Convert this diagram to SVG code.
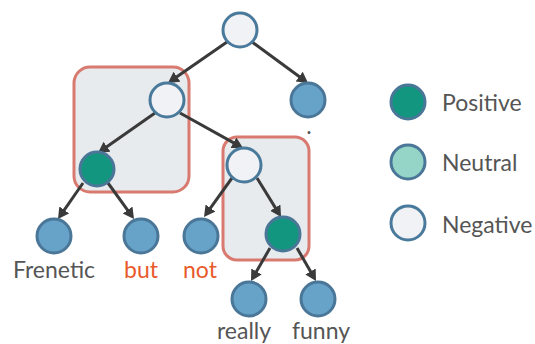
<svg xmlns="http://www.w3.org/2000/svg" width="535" height="344" viewBox="0 0 535 344">
<style>
.box{fill:#e8ebed;stroke:#d87a70;stroke-width:3}
.neg{fill:#f0f2f5;stroke:#4a7a9b;stroke-width:3}
.leaf{fill:#67a3c8;stroke:#4a7698;stroke-width:3}
.pos{fill:#13967f;stroke:#4a7698;stroke-width:3}
.neu{fill:#95d5c8;stroke:#4a7698;stroke-width:3}
.edge{stroke:#3a3a3a;stroke-width:3;fill:none}
text{font-family:Lato,"Open Sans","Liberation Sans",sans-serif;font-size:23px;fill:#555}
.red{fill:#e95a2b}
</style>
<defs>
<marker id="ah" markerUnits="userSpaceOnUse" markerWidth="14" markerHeight="14" refX="5" refY="6" orient="auto">
<path d="M0,0 L11,6 L0,12 z" fill="#3a3a3a"/>
</marker>
</defs>
<g id="boxes">
<rect class="box" x="74" y="67" width="115" height="125" rx="16"/>
<rect class="box" x="223" y="137" width="86" height="123" rx="14"/>
</g>
<g id="connectors">
<line class="edge" x1="227" y1="42" x2="172.9" y2="79.6" marker-end="url(#ah)"/>
<line class="edge" x1="252" y1="42" x2="303.2" y2="79.5" marker-end="url(#ah)"/>
<line class="edge" x1="155" y1="113" x2="102.9" y2="149.6" marker-end="url(#ah)"/>
<line class="edge" x1="180" y1="113" x2="237.8" y2="145.1" marker-end="url(#ah)"/>
<line class="edge" x1="83" y1="183" x2="61.4" y2="214.1" marker-end="url(#ah)"/>
<line class="edge" x1="108" y1="183" x2="130.5" y2="214.1" marker-end="url(#ah)"/>
<line class="edge" x1="232" y1="178" x2="207.5" y2="212.1" marker-end="url(#ah)"/>
<line class="edge" x1="257" y1="178" x2="277.9" y2="211.9" marker-end="url(#ah)"/>
<line class="edge" x1="270" y1="248" x2="254" y2="275.8" marker-end="url(#ah)"/>
<line class="edge" x1="297" y1="248" x2="313" y2="275.8" marker-end="url(#ah)"/>
</g>
<g id="root"><circle class="neg" cx="240" cy="30" r="17"/></g>
<g id="n1"><circle class="neg" cx="167" cy="100" r="17"/></g>
<g id="period"><circle class="leaf" cx="308" cy="100" r="17"/><text x="309" y="134" text-anchor="middle">.</text></g>
<g id="n2"><circle class="pos" cx="97" cy="169" r="17"/></g>
<g id="n3"><circle class="neg" cx="244" cy="165" r="17"/></g>
<g id="frenetic"><circle class="leaf" cx="54" cy="236" r="17"/><text x="54" y="278" text-anchor="middle">Frenetic</text></g>
<g id="but"><circle class="leaf" cx="141" cy="236" r="17"/><text class="red" x="141" y="278" text-anchor="middle">but</text></g>
<g id="not"><circle class="leaf" cx="201" cy="236" r="17"/><text class="red" x="200" y="278" text-anchor="middle">not</text></g>
<g id="n4"><circle class="pos" cx="283" cy="234" r="17"/></g>
<g id="really"><circle class="leaf" cx="249" cy="299" r="17"/><text x="244" y="339" text-anchor="middle">really</text></g>
<g id="funny"><circle class="leaf" cx="318" cy="299" r="17"/><text x="321" y="339" text-anchor="middle">funny</text></g>
<g id="legend">
<circle class="pos" cx="408" cy="102" r="17"/><text x="442" y="111">Positive</text>
<circle class="neu" cx="408" cy="162" r="17"/><text x="442" y="171">Neutral</text>
<circle class="neg" cx="408" cy="223" r="17"/><text x="442" y="233">Negative</text>
</g>
</svg>
